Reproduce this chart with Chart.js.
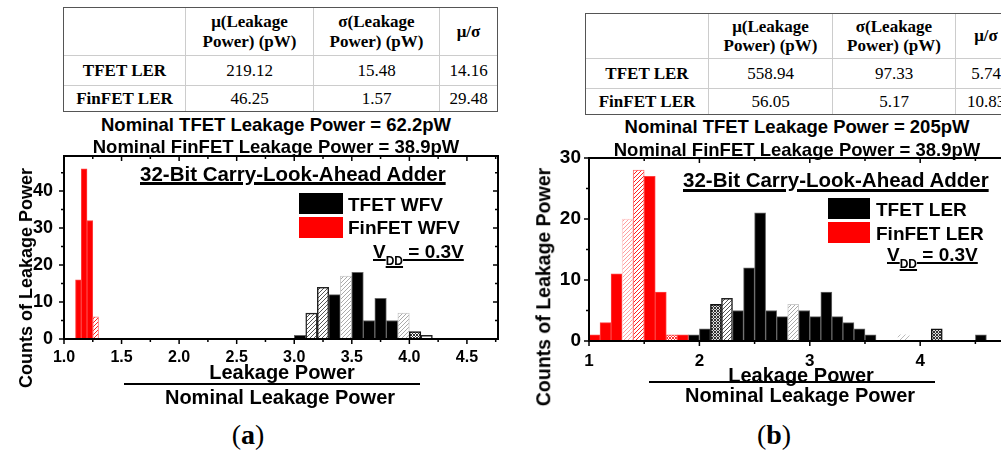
<!DOCTYPE html>
<html>
<head>
<meta charset="utf-8">
<script src="https://cdn.jsdelivr.net/npm/chart.js"></script>
<style>
html, body { margin: 0; padding: 0; overflow: hidden; background: #fff; }
body { position: relative; width: 1001px; height: 452px; font-family: "Liberation Sans", Arial, sans-serif; color: #000; }
.abs { position: absolute; line-height: 1; white-space: nowrap; }
.b { font-weight: bold; }
.centro { transform: translateX(-50%); }
.vert { transform: translate(-50%, -50%) rotate(-90deg); }
.sub { text-decoration: underline; text-decoration-thickness: 2px; text-underline-offset: 1px; }
table.tab { position: absolute; border-collapse: separate; border-spacing: 0; table-layout: fixed; border: 1px solid #555;
  font-family: "Liberation Serif", "Times New Roman", serif; font-size: 17px; text-align: center; }
table.tab td { border-right: 1px solid #ccc; border-bottom: 1px solid #ccc; padding: 0; line-height: 1.12; }
table.tab tr:last-child td { border-bottom: none; }
table.tab td:last-child { border-right: none; }
table.tab tr:first-child td, table.tab td:first-child { font-weight: bold; }
.caixa { position: absolute; }
.traco { position: absolute; height: 2px; background: #000; }
</style>
</head>
<body>

<table class="tab" style="left:63px; top:7px; width:433px;">
  <colgroup><col style="width:122px"><col style="width:128px"><col style="width:126px"><col style="width:57px"></colgroup>
  <tr style="height:48px"><td></td><td>μ(Leakage<br>Power) (pW)</td><td>σ(Leakage<br>Power) (pW)</td><td>μ/σ</td></tr>
  <tr style="height:30px"><td>TFET LER</td><td>219.12</td><td>15.48</td><td>14.16</td></tr>
  <tr style="height:25px"><td>FinFET LER</td><td>46.25</td><td>1.57</td><td>29.48</td></tr>
</table>

<table class="tab" style="left:585px; top:13px; width:430px;">
  <colgroup><col style="width:123px"><col style="width:124px"><col style="width:123px"><col style="width:60px"></colgroup>
  <tr style="height:45px"><td></td><td>μ(Leakage<br>Power) (pW)</td><td>σ(Leakage<br>Power) (pW)</td><td>μ/σ</td></tr>
  <tr style="height:30px"><td>TFET LER</td><td>558.94</td><td>97.33</td><td>5.74</td></tr>
  <tr style="height:25px"><td>FinFET LER</td><td>56.05</td><td>5.17</td><td>10.83</td></tr>
</table>

<div id="boxA" style="position:absolute; left:0; top:140px; width:510px; height:240px;"><canvas id="grafA"></canvas></div>
<div id="boxB" style="position:absolute; left:520px; top:140px; width:500px; height:240px;"><canvas id="grafB"></canvas></div>

<!-- Textos do painel (a) -->
<div class="abs b centro" style="left:276px; top:115.6px; font-size:18.5px;">Nominal TFET Leakage Power = 62.2pW</div>
<div class="abs b centro" style="left:276px; top:137.6px; font-size:18.5px;">Nominal FinFET Leakage Power = 38.9pW</div>
<div class="abs b" style="left:140px; top:164.3px; font-size:20.5px; text-decoration:underline; text-decoration-thickness:2.5px; text-underline-offset:1px;">32-Bit Carry-Look-Ahead Adder</div>
<div class="caixa" style="left:299px; top:193px; width:44px; height:21px; background:#000;"></div>
<div class="caixa" style="left:299px; top:217px; width:44px; height:21px; background:#f00;"></div>
<div class="abs b" style="left:348px; top:194.7px; font-size:19px;">TFET WFV</div>
<div class="abs b" style="left:348px; top:217.7px; font-size:19px;">FinFET WFV</div>
<div class="abs b" style="left:373px; top:241.5px; font-size:19px;"><span class="sub">V</span><span class="sub" style="font-size:12px; vertical-align:-7px;">DD</span><span class="sub"> = 0.3V</span></div>
<div class="abs b vert" style="left:26px; top:278px; font-size:18px;">Counts of Leakage Power</div>
<div class="abs b centro" style="left:282px; top:362.4px; font-size:20px;">Leakage Power</div>
<div class="traco" style="left:124px; top:383px; width:296px;"></div>
<div class="abs b centro" style="left:280px; top:387.4px; font-size:20px;">Nominal Leakage Power</div>
<div class="abs centro" style="left:248px; top:420.5px; font-size:28px; font-family:'Liberation Serif', serif;">(<b>a</b>)</div>

<!-- Textos do painel (b) -->
<div class="abs b centro" style="left:797px; top:117.6px; font-size:18.5px;">Nominal TFET Leakage Power = 205pW</div>
<div class="abs b centro" style="left:797px; top:141px; font-size:18.5px;">Nominal FinFET Leakage Power = 38.9pW</div>
<div class="abs b" style="left:683px; top:170.3px; font-size:20.5px; text-decoration:underline; text-decoration-thickness:2.5px; text-underline-offset:2px;">32-Bit Carry-Look-Ahead Adder</div>
<div class="caixa" style="left:828px; top:198px; width:42px; height:21px; background:#000;"></div>
<div class="caixa" style="left:828px; top:222px; width:42px; height:21px; background:#f00;"></div>
<div class="abs b" style="left:876px; top:199.7px; font-size:19px;">TFET LER</div>
<div class="abs b" style="left:876px; top:223.7px; font-size:19px;">FinFET LER</div>
<div class="abs b" style="left:887px; top:244.5px; font-size:19px;"><span class="sub">V</span><span class="sub" style="font-size:12px; vertical-align:-7px;">DD</span><span class="sub"> = 0.3V</span></div>
<div class="abs b vert" style="left:544px; top:287px; font-size:19.5px;">Counts of Leakage Power</div>
<div class="abs b centro" style="left:801px; top:365.4px; font-size:20px;">Leakage Power</div>
<div class="traco" style="left:649px; top:381px; width:286px;"></div>
<div class="abs b centro" style="left:800px; top:385.4px; font-size:20px;">Nominal Leakage Power</div>
<div class="abs centro" style="left:774px; top:420.5px; font-size:28px; font-family:'Liberation Serif', serif;">(<b>b</b>)</div>

<script>
// Dados do painel (a) - WFV
const binsFinA = [1.125, 1.175, 1.225, 1.275];
const contagemFinA = [16, 46, 32, 6];
const estiloFinA = ['s', 's', 's', 'h'];
const binsTfetA = [3.05, 3.15, 3.25, 3.35, 3.45, 3.55, 3.65, 3.75, 3.85, 3.95, 4.05, 4.15];
const contagemTfetA = [1, 7, 14, 12, 17, 18, 5, 11, 5, 7, 2, 1];
const estiloTfetA = ['s', 'h', 'h', 's', 'l', 's', 's', 's', 's', 'l', 'x', 'o'];
const ticksXA = ['1.0', '1.5', '2.0', '2.5', '3.0', '3.5', '4.0', '4.5'];
const ticksYA = ['0', '10', '20', '30', '40'];

// Dados do painel (b) - LER
const binsFinB = [1.05, 1.15, 1.25, 1.35, 1.45, 1.55, 1.65, 1.75, 1.85];
const contagemFinB = [1, 3, 11, 20, 28, 27, 8, 1, 1];
const estiloFinB = ['s', 's', 's', 'l', 'h', 's', 's', 'x', 's'];
const binsTfetB = [1.95, 2.05, 2.15, 2.25, 2.35, 2.45, 2.55, 2.65, 2.75, 2.85, 2.95, 3.05, 3.15, 3.25, 3.35, 3.45, 3.55, 3.85, 4.15, 4.55];
const contagemTfetB = [1, 2, 6, 7, 5, 12, 21, 5, 4, 6, 5, 4, 8, 4, 3, 2, 1, 1, 2, 1];
const estiloTfetB = ['s', 's', 'd', 'h', 's', 's', 's', 's', 's', 'l', 's', 's', 's', 's', 's', 's', 's', 'f', 'd', 's'];
const ticksXB = ['1', '2', '3', '4'];
const ticksYB = ['0', '10', '20', '30'];

Chart.defaults.font.family = '"Liberation Sans", Arial, sans-serif';
Chart.defaults.color = '#000';

// Hachuras
function padrao(ctx, fundo, linha, passo, cruzado) {
  const c = document.createElement('canvas');
  c.width = c.height = passo;
  const g = c.getContext('2d');
  g.fillStyle = fundo;
  g.fillRect(0, 0, passo, passo);
  g.strokeStyle = linha;
  g.lineWidth = 1;
  g.beginPath();
  g.moveTo(0, passo); g.lineTo(passo, 0);
  g.moveTo(-1, 1); g.lineTo(1, -1);
  g.moveTo(passo - 1, passo + 1); g.lineTo(passo + 1, passo - 1);
  if (cruzado) { g.moveTo(0, 0); g.lineTo(passo, passo); }
  g.stroke();
  return ctx.createPattern(c, 'repeat');
}

function paletas(ctx) {
  return {
    preto: {
      s: { fundo: '#000', borda: '#666', largura: 1 },
      h: { fundo: padrao(ctx, '#fff', '#555', 4), borda: '#222', largura: 1.5 },
      d: { fundo: padrao(ctx, '#ddd', '#333', 3, true), borda: '#111', largura: 1.5 },
      l: { fundo: padrao(ctx, '#fff', '#aaa', 4), borda: '#ccc', largura: 1 },
      x: { fundo: padrao(ctx, '#fff', '#333', 3, true), borda: '#111', largura: 1.5 },
      o: { fundo: '#fff', borda: '#222', largura: 1.5 },
      f: { fundo: padrao(ctx, '#fff', '#bbb', 5), borda: 'rgba(0,0,0,0)', largura: 0 }
    },
    vermelho: {
      s: { fundo: '#ff0000', borda: '#ff4040', largura: 1 },
      h: { fundo: padrao(ctx, '#fff', '#ff2020', 4), borda: '#ff7070', largura: 1 },
      l: { fundo: padrao(ctx, '#fff', '#ffa0a0', 4), borda: '#ffd0d0', largura: 1 },
      x: { fundo: padrao(ctx, '#fff', '#ff3030', 3, true), borda: '#ff6060', largura: 1 }
    }
  };
}

function serie(label, bins, contagens, estilos, paleta, eixo) {
  return {
    label,
    xAxisID: eixo,
    data: bins.map((x, i) => ({ x, y: contagens[i] })),
    backgroundColor: estilos.map(e => paleta[e].fundo),
    borderColor: estilos.map(e => paleta[e].borda),
    borderWidth: estilos.map(e => paleta[e].largura)
  };
}

// Moldura com ticks maiores e menores (fora embaixo/esquerda, dentro em cima/direita)
function moldura(menorX, maiorX, menorY, maiorY) {
  const ehMaior = (v, m) => Math.abs(v / m - Math.round(v / m)) < 1e-6;
  return {
    id: 'moldura',
    afterDraw(chart) {
      const ctx = chart.ctx, a = chart.chartArea;
      const sx = chart.scales.x, sy = chart.scales.y;
      ctx.save();
      ctx.strokeStyle = '#000';
      ctx.lineWidth = 1.5;
      ctx.beginPath();
      for (let i = 0; sx.min + i * menorX <= sx.max + 1e-9; i++) {
        const v = sx.min + i * menorX;
        const p = sx.getPixelForValue(v);
        const t = ehMaior(v, maiorX) ? 5 : 3;
        ctx.moveTo(p, a.bottom); ctx.lineTo(p, a.bottom + t);
        ctx.moveTo(p, a.top); ctx.lineTo(p, a.top + t);
      }
      for (let i = 0; i * menorY <= sy.max + 1e-9; i++) {
        const v = i * menorY;
        const p = sy.getPixelForValue(v);
        const t = ehMaior(v, maiorY) ? 5 : 3;
        ctx.moveTo(a.left - t, p); ctx.lineTo(a.left, p);
        ctx.moveTo(a.right - t, p); ctx.lineTo(a.right, p);
      }
      ctx.stroke();
      ctx.lineWidth = 2;
      ctx.strokeRect(a.left, a.top, a.width, a.height);
      ctx.restore();
    }
  };
}

function eixoX(ticks, min, max, tamanho, padding, altura) {
  return {
    type: 'linear', min, max, offset: false,
    grid: { display: false, drawTicks: false },
    border: { display: true, width: 2, color: '#000' },
    afterBuildTicks: s => { s.ticks = ticks.map(t => ({ value: Number(t) })); },
    afterFit: s => { s.height = altura; s.paddingLeft = 0; s.paddingRight = 0; },
    ticks: { autoSkip: false, maxRotation: 0, padding, font: { size: tamanho, weight: 'bold' }, callback: (v, i) => ticks[i] }
  };
}

function eixoY(ticks, max, tamanho, padding, largura) {
  return {
    min: 0, max,
    grid: { display: false, drawTicks: false },
    border: { display: true, width: 2, color: '#000' },
    afterBuildTicks: s => { s.ticks = ticks.map(t => ({ value: Number(t) })); },
    afterFit: s => { s.width = largura; s.paddingTop = 0; s.paddingBottom = 0; },
    ticks: { padding, font: { size: tamanho, weight: 'bold' }, callback: (v, i) => ticks[i] }
  };
}

function opcoes(padding, scales) {
  return {
    animation: false,
    responsive: true,
    maintainAspectRatio: false,
    events: [],
    layout: { padding },
    datasets: { bar: { barPercentage: 1, categoryPercentage: 1, grouped: false } },
    plugins: { legend: { display: false }, tooltip: { enabled: false } },
    scales
  };
}

// Painel (a)
const ctxA = document.getElementById('grafA').getContext('2d');
const palA = paletas(ctxA);
new Chart(ctxA, {
  type: 'bar',
  data: {
    datasets: [
      serie('FinFET WFV', binsFinA, contagemFinA, estiloFinA, palA.vermelho, 'x'),
      serie('TFET WFV', binsTfetA, contagemTfetA, estiloTfetA, palA.preto, 'x2')
    ]
  },
  options: opcoes({ top: 16, right: 12, left: 0, bottom: 0 }, {
    x: eixoX(ticksXA, 1, 4.77, 16, 9, 41),
    x2: { type: 'linear', min: 1, max: 4.77, offset: false, display: false, afterBuildTicks: s => { s.ticks = []; } },
    y: eixoY(ticksYA, 49.5, 18, 11, 64)
  }),
  plugins: [moldura(0.25, 0.5, 5, 10)]
});

// Painel (b)
const ctxB = document.getElementById('grafB').getContext('2d');
const palB = paletas(ctxB);
new Chart(ctxB, {
  type: 'bar',
  data: {
    datasets: [
      serie('FinFET LER', binsFinB, contagemFinB, estiloFinB, palB.vermelho, 'x'),
      serie('TFET LER', binsTfetB, contagemTfetB, estiloTfetB, palB.preto, 'x')
    ]
  },
  options: opcoes({ top: 18, right: 11.5, left: 0, bottom: 0 }, {
    x: eixoX(ticksXB, 1, 4.8, 17, 10, 39),
    y: eixoY(ticksYB, 30, 19, 8, 69)
  }),
  plugins: [moldura(0.5, 1, 5, 10)]
});
</script>
</body>
</html>
